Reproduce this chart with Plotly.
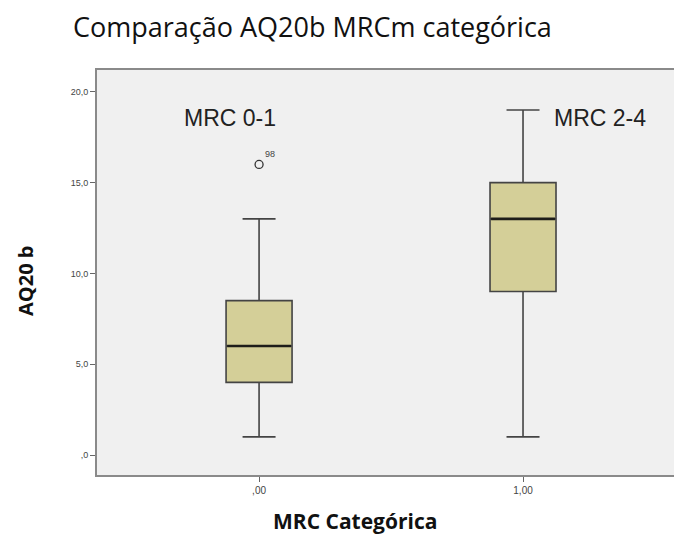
import plotly.graph_objects as go

# Data
categories = [0.0, 1.0]
cat_labels = [",00", "1,00"]
group_names = ["MRC 0-1", "MRC 2-4"]
q1 = [4.0, 9.0]
median = [6.0, 13.0]
q3 = [8.5, 15.0]
lower_whisker = [1.0, 1.0]
upper_whisker = [13.0, 19.0]
outlier_x = [0.0]
outlier_y = [16.0]
outlier_ids = ["98"]
y_tickvals = [0, 5, 10, 15, 20]
y_ticktext = [",0", "5,0", "10,0", "15,0", "20,0"]

BOX_W = 0.25
fill = "#D4CF98"
edge = "#444444"

W, H = 674, 535
ML, MR, MT, MB = 97, 0, 70, 535 - 475
PW, PH = W - ML - MR, H - MT - MB


def px(x):
    return (x - ML) / PW


def py(y):
    return (H - MB - y) / PH


fig = go.Figure()
for i, c in enumerate(categories):
    fig.add_trace(go.Box(
        x=[c], q1=[q1[i]], median=[median[i]], q3=[q3[i]],
        lowerfence=[lower_whisker[i]], upperfence=[upper_whisker[i]],
        width=BOX_W, whiskerwidth=0.5, boxpoints=False,
        fillcolor=fill, line=dict(color=edge, width=1.6),
        showlegend=False, hoverinfo="skip",
    ))
    fig.add_trace(go.Scatter(
        x=[c - BOX_W / 2 + 0.004, c + BOX_W / 2 - 0.004], y=[median[i], median[i]],
        mode="lines", line=dict(color="#1e1e1a", width=2.6),
        showlegend=False, hoverinfo="skip",
    ))

fig.add_trace(go.Scatter(
    x=outlier_x, y=outlier_y, mode="markers",
    marker=dict(symbol="circle-open", size=8, color="#333", line=dict(width=1.3)),
    showlegend=False, hoverinfo="skip",
))
for ox, oy, oid in zip(outlier_x, outlier_y, outlier_ids):
    fig.add_annotation(x=ox, y=oy, text=oid, showarrow=False, xshift=11, yshift=10,
                       font=dict(family="Liberation Sans, Arial", size=9, color="#444"))

# Group labels
fig.add_annotation(x=categories[0], y=py(118), yref="paper", text=group_names[0],
                   showarrow=False, xanchor="center", yanchor="middle", xshift=-29,
                   font=dict(family="Liberation Sans, Arial", size=23, color="#222"))
fig.add_annotation(x=categories[1], y=py(118), yref="paper", text=group_names[1],
                   showarrow=False, xanchor="center", yanchor="middle", xshift=77,
                   font=dict(family="Liberation Sans, Arial", size=23, color="#222"))

# Axis titles
fig.add_annotation(xref="paper", yref="paper", x=px(25), y=py(281), text="<b>AQ20 b</b>",
                   showarrow=False, textangle=-90, xanchor="center", yanchor="middle",
                   font=dict(family="Open Sans, Liberation Sans", size=20, color="#111"))
fig.add_annotation(xref="paper", yref="paper", x=px(355), y=py(521),
                   text="<b>MRC Categórica</b>",
                   showarrow=False, xanchor="center", yanchor="middle",
                   font=dict(family="Open Sans, Liberation Sans", size=21, color="#111"))

fig.update_layout(
    width=W, height=H,
    margin=dict(l=ML, r=MR, t=MT, b=MB, pad=0),
    paper_bgcolor="white", plot_bgcolor="#F0F0F0",
    title=dict(text="Comparação AQ20b MRCm categórica", x=73 / W, xanchor="left",
               y=1 - 28 / H, yanchor="middle",
               font=dict(family="Open Sans, Liberation Sans", size=27, color="#111")),
    xaxis=dict(range=[-0.614, 1.572], tickvals=categories, ticktext=cat_labels,
               showgrid=False, zeroline=False, showline=True, linecolor="#8a8a8a",
               linewidth=2, mirror=True, ticks="outside", ticklen=5, tickcolor="#666",
               automargin=False,
               tickfont=dict(family="Liberation Sans, Arial", size=10, color="#444")),
    yaxis=dict(range=[-1.1, 21.2], tickvals=y_tickvals, ticktext=y_ticktext,
               showgrid=False, zeroline=False, showline=True, linecolor="#8a8a8a",
               linewidth=2, mirror=False, ticks="outside", ticklen=5, tickcolor="#666",
               automargin=False,
               tickfont=dict(family="Liberation Sans, Arial", size=9, color="#444")),
)

fig.write_html("out.html", config={"displayModeBar": False},
               post_script="document.body.style.margin='0';document.body.style.overflow='hidden';")
